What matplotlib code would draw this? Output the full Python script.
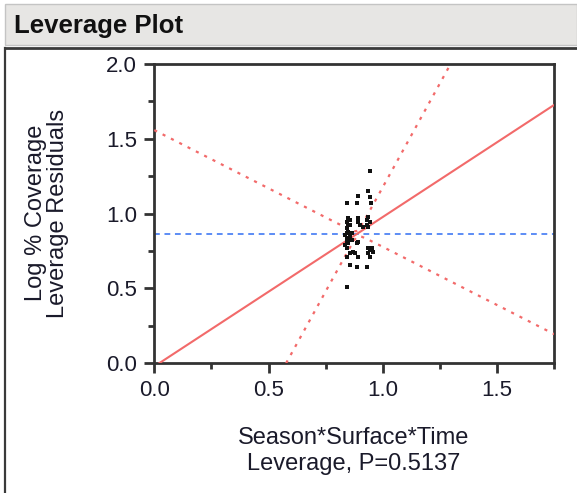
import numpy as np
import matplotlib
matplotlib.use("Agg")
import matplotlib.pyplot as plt
from matplotlib.patches import Rectangle
from matplotlib.lines import Line2D
from matplotlib.ticker import MultipleLocator

plt.rcParams['font.family'] = ['Liberation Sans', 'DejaVu Sans']

# Leverage values (x) and leverage residuals (y)
leverage_x = [0.944, 0.937, 0.891, 0.944, 0.842, 0.886, 0.948, 0.937, 0.944, 0.937,
              0.856, 0.856, 0.893, 0.900, 0.849, 0.893, 0.842, 0.930, 0.842, 0.849,
              0.842, 0.856, 0.864, 0.842, 0.856, 0.849, 0.842, 0.864, 0.849, 0.886,
              0.893, 0.842, 0.871, 0.893, 0.842, 0.856, 0.878, 0.937, 0.944, 0.951,
              0.944, 0.937, 0.856, 0.886, 0.930, 0.842, 0.913, 0.930, 0.835, 0.835,
              0.958, 0.849]
leverage_y = [1.286, 1.153, 1.117, 1.110, 1.072, 1.072, 1.072, 0.979, 0.945, 0.912,
              0.957, 0.923, 0.945, 0.923, 0.968, 0.968, 0.945, 0.957, 0.901, 0.878,
              0.868, 0.856, 0.868, 0.834, 0.845, 0.823, 0.811, 0.823, 0.801, 0.801,
              0.811, 0.767, 0.745, 0.711, 0.711, 0.734, 0.734, 0.767, 0.756, 0.767,
              0.711, 0.734, 0.656, 0.644, 0.644, 0.510, 0.912, 0.923, 0.856, 0.790,
              0.745, 0.923]

# Fit summary
x_center = 0.888
y_mean = 0.865
fit_slope = 1.0
ci_spread = 1.78
ci_width0 = 0.02

x_ticks = [0.0, 0.5, 1.0, 1.5]
y_ticks = [0.0, 0.5, 1.0, 1.5, 2.0]
x_limits = (0.0, 1.75)
y_limits = (0.0, 2.0)

W, H = 577, 493
fig = plt.figure(figsize=(W / 100, H / 100), dpi=100)
fig.patch.set_facecolor('white')

def fx(px):
    return px / W

def fy(py):
    return 1 - py / H

# Header bar
fig.patches.append(Rectangle((fx(5), fy(45)), fx(577) - fx(5), fy(4) - fy(45),
                             transform=fig.transFigure, facecolor='#e7e6e4',
                             edgecolor='#c4c4c4', linewidth=1.0, zorder=0))
fig.text(fx(14), fy(26), 'Leverage Plot', fontsize=18.5, fontweight='bold',
         va='center', ha='left', color='#111111')

# Panel frame
fig.lines.append(Line2D([fx(5), fx(5)], [fy(48), fy(493)], transform=fig.transFigure,
                        color='#3a3a3a', linewidth=1.6))
fig.lines.append(Line2D([fx(5), fx(577)], [fy(48), fy(48)], transform=fig.transFigure,
                        color='#3a3a3a', linewidth=2.0))

ax = fig.add_axes([fx(154.3), fy(363), fx(554.3) - fx(154.3), fy(64) - fy(363)])
ax.set_xlim(*x_limits)
ax.set_ylim(*y_limits)

xs = np.linspace(x_limits[0], x_limits[1], 600)
fit = y_mean + fit_slope * (xs - x_center)
half = np.sqrt(ci_width0 ** 2 + (ci_spread * (xs - x_center)) ** 2)

red = '#f26a6a'
dots = (0, (1.4, 2.8))
ax.axhline(y_mean, color='#4f83f5', linewidth=1.3, linestyle=(0, (3.2, 2.6)), zorder=2)
ax.plot(xs, fit, color=red, linewidth=1.5, zorder=3)
ax.plot(xs, fit + half, color=red, linewidth=1.6, linestyle=dots, zorder=3)
ax.plot(xs, fit - half, color=red, linewidth=1.6, linestyle=dots, zorder=3)
ax.plot(leverage_x, leverage_y, linestyle='none', marker='s', markersize=2.8,
        color='#111111', markeredgewidth=0, zorder=4)

for s in ax.spines.values():
    s.set_color('#333333')
    s.set_linewidth(2.0)

ax.set_xticks(x_ticks)
ax.set_yticks(y_ticks)
ax.xaxis.set_minor_locator(MultipleLocator(0.25))
ax.yaxis.set_minor_locator(MultipleLocator(0.25))
ax.set_xticklabels([f'{v:.1f}' for v in x_ticks])
ax.set_yticklabels([f'{v:.1f}' for v in y_ticks])
ax.tick_params(which='major', length=7.5, width=2.0, color='#333333',
               labelsize=16, labelcolor='#1a1a2a', pad=5)
ax.tick_params(which='minor', length=4.5, width=2.0, color='#333333')

fig.text(fx(47), fy(213), 'Log % Coverage\nLeverage Residuals', rotation=90,
         fontsize=17, ha='center', va='center', linespacing=1.05, color='#1a1a2a')
fig.text(fx(354), fy(451), 'Season*Surface*Time\nLeverage, P=0.5137',
         fontsize=17, ha='center', va='center', linespacing=1.2, color='#1a1a2a')

fig.savefig('out.png', dpi=100)
